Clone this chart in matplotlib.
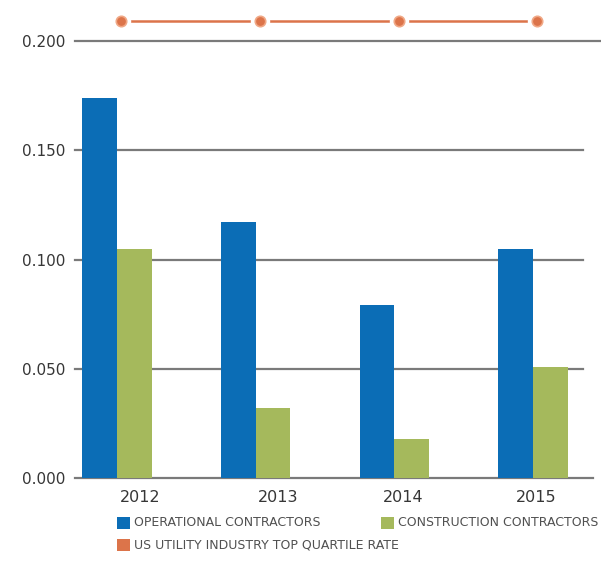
import matplotlib
matplotlib.use("Agg")
import matplotlib.pyplot as plt
from matplotlib.patches import Rectangle
import numpy as np

# Data
years = ["2012", "2013", "2014", "2015"]
operational = [0.174, 0.117, 0.079, 0.105]
construction = [0.105, 0.032, 0.018, 0.051]
top_quartile_rate = [0.209, 0.209, 0.209, 0.209]
y_ticks = [0.000, 0.050, 0.100, 0.150, 0.200]
y_tick_labels = ["0.000", "0.050", "0.100", "0.150", "0.200"]
legend_labels = ["OPERATIONAL CONTRACTORS", "CONSTRUCTION CONTRACTORS",
                 "US UTILITY INDUSTRY TOP QUARTILE RATE"]

# Styling
BLUE = "#0b6db6"
GREEN = "#a5b95c"
ORANGE = "#dc744a"
GRID = "#7a7a7a"
TEXT = "#363636"
plt.rcParams["font.family"] = ["DejaVu Sans"]

W, H = 601, 561
fig = plt.figure(figsize=(W / 100, H / 100), dpi=100)
ax = fig.add_axes([75 / W, 1 - 478 / H, (593 - 75) / W, (478 - 41) / H])

x = np.arange(len(years))
bw = 0.25
b1 = ax.bar(x - bw / 2, operational, bw, color=BLUE, zorder=3, linewidth=0)
b2 = ax.bar(x + bw / 2, construction, bw, color=GREEN, zorder=3, linewidth=0)

# Horizontal reference lines
for t in y_ticks:
    if t == 0:
        xmax = 1.0
    elif t == max(y_ticks):
        xmax = 1.014
    else:
        xmax = 0.98
    ax.axhline(t, xmin=0, xmax=xmax, color=GRID, lw=1.6, zorder=2, clip_on=False)

# Industry rate line with ringed markers
rate_x = x + 0.03
ax.plot(rate_x, top_quartile_rate, color=ORANGE, lw=1.8, zorder=4, clip_on=False)
ax.plot(rate_x, top_quartile_rate, "o", ms=13, color="white", zorder=5, clip_on=False)
ax.plot(rate_x, top_quartile_rate, "o", ms=7.5, color=ORANGE, mec="#f0a886",
        mew=1.2, zorder=6, clip_on=False)

ax.set_xlim(-0.303, 3.432)
ax.set_ylim(0, 0.2)
ax.set_yticks(y_ticks)
ax.set_yticklabels(y_tick_labels, fontsize=11, color=TEXT)
ax.tick_params(axis="y", length=0, pad=7)
ax.set_xticks([])
for s in ax.spines.values():
    s.set_visible(False)

# Year labels below the baseline
label_shift = [0.165, 0.16, 0.065, 0.02]
for xi, yr, sh in zip(x, years, label_shift):
    ax.text(xi + sh, -0.0088, yr, ha="center", va="center", fontsize=11.5,
            color=TEXT, fontweight="medium", transform=ax.transData)

# Legend
def legend_item(px, py, color, label):
    fig.patches.append(Rectangle((px / W, 1 - (py + 6) / H), 13 / W, 12 / H,
                                 transform=fig.transFigure, color=color, lw=0))
    fig.text((px + 17) / W, 1 - py / H, label, fontsize=9, color="#505050",
             va="center", ha="left")

legend_item(117, 523, b1.patches[0].get_facecolor(), legend_labels[0])
legend_item(381, 523, b2.patches[0].get_facecolor(), legend_labels[1])
legend_item(117, 545, ORANGE, legend_labels[2])

fig.savefig("out.png", dpi=100)
